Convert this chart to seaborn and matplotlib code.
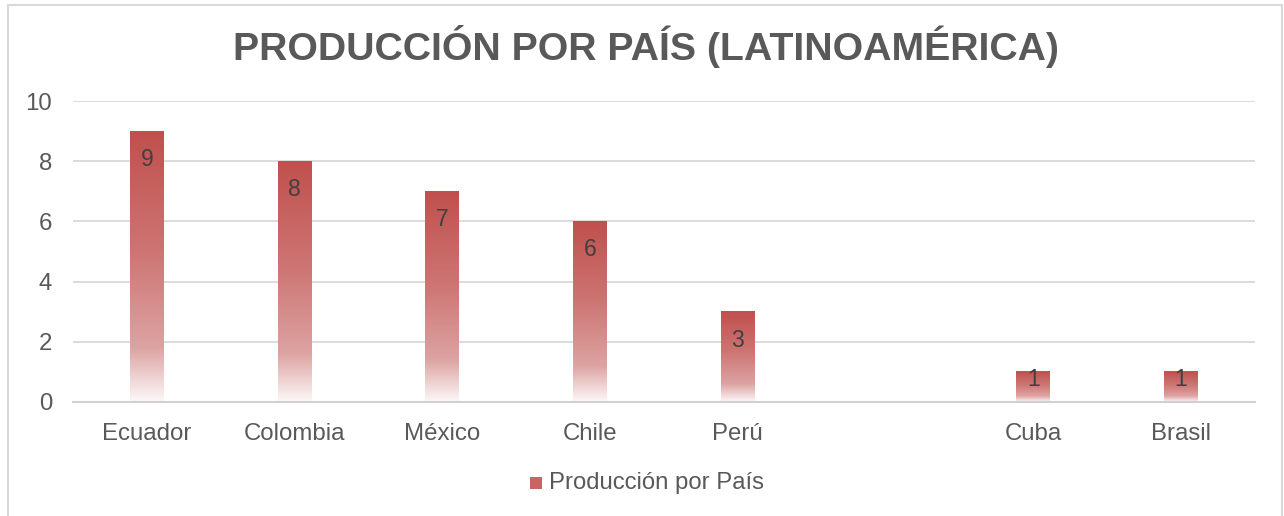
import numpy as np
import pandas as pd
import matplotlib
matplotlib.use("Agg")
import matplotlib.pyplot as plt
import seaborn as sns
from matplotlib.colors import LinearSegmentedColormap
from matplotlib.patches import Rectangle

# data (one blank slot between Perú and Cuba)
paises = ["Ecuador", "Colombia", "México", "Chile", "Perú", " ", "Cuba", "Brasil"]
produccion = [9, 8, 7, 6, 3, 0, 1, 1]
serie = "Producción por País"
titulo = "PRODUCCIÓN POR PAÍS (LATINOAMÉRICA)"

sns.set_theme(style="white")
plt.rcParams["font.family"] = ["Liberation Sans", "DejaVu Sans"]

gris = "#595959"
grad = LinearSegmentedColormap.from_list(
    "barra", [(0.0, "#FDF8F8"), (0.2, "#DCA3A2"), (0.55, "#CD7674"), (1.0, "#C0504D")])

df = pd.DataFrame({"pais": paises, "valor": produccion})

fig = plt.figure(figsize=(12.84, 5.16), dpi=100)
ax = fig.add_axes([73 / 1284, 1 - 402 / 516, 1182 / 1284, 301 / 516])

sns.barplot(data=df, x="pais", y="valor", ax=ax, width=0.23, color="#C0504D",
            saturation=1)

# gradient fill per bar
grad_img = np.linspace(0, 1, 256).reshape(-1, 1)
for p, v in zip(ax.patches, produccion):
    if v <= 0:
        continue
    x0, w, h = p.get_x(), p.get_width(), p.get_height()
    p.set_facecolor("none")
    p.set_edgecolor("none")
    ax.imshow(grad_img, cmap=grad, origin="lower", aspect="auto",
              extent=[x0, x0 + w, 0, h], zorder=2, interpolation="bilinear")
    y_lab = v - 0.95 if v > 2 else v - 0.25
    ax.text(x0 + w / 2, y_lab, str(v), ha="center", va="center",
            fontsize=16.5, color="#404040", zorder=3)

ax.set_xlim(-0.5, len(paises) - 0.5)
ax.set_ylim(0, 10)
ax.set_yticks(range(0, 11, 2))
ax.yaxis.grid(True, color="#D9D9D9", linewidth=1.3)
ax.set_axisbelow(True)
for s in ["top", "right", "left"]:
    ax.spines[s].set_visible(False)
ax.spines["bottom"].set_color("#D0D0D0")
ax.spines["bottom"].set_linewidth(1.5)
ax.set_xlabel("")
ax.set_ylabel("")
ax.tick_params(axis="both", length=0, labelsize=17.3, labelcolor=gris)
ax.tick_params(axis="x", pad=15)
ax.tick_params(axis="y", pad=15)

fig.text(0.503, 1 - 47 / 516, titulo, ha="center", va="center",
         fontsize=28.3, fontweight="bold", color=gris)

# legend with gradient swatch
lx, ly = 530 / 1284, 1 - 483 / 516
fig.add_artist(Rectangle((lx, ly - 6 / 516), 12 / 1284, 12 / 516,
                         transform=fig.transFigure, color="#C86462", lw=0))
fig.text(lx + 19 / 1284, ly, serie, ha="left", va="center", fontsize=17.2, color=gris)

# chart border
fig.add_artist(Rectangle((8 / 1284, -0.05), 1274 / 1284, 1.05 - 5 / 516,
                         transform=fig.transFigure, fill=False,
                         edgecolor="#D9D9D9", lw=1.5))

fig.savefig("out.png", dpi=100)
